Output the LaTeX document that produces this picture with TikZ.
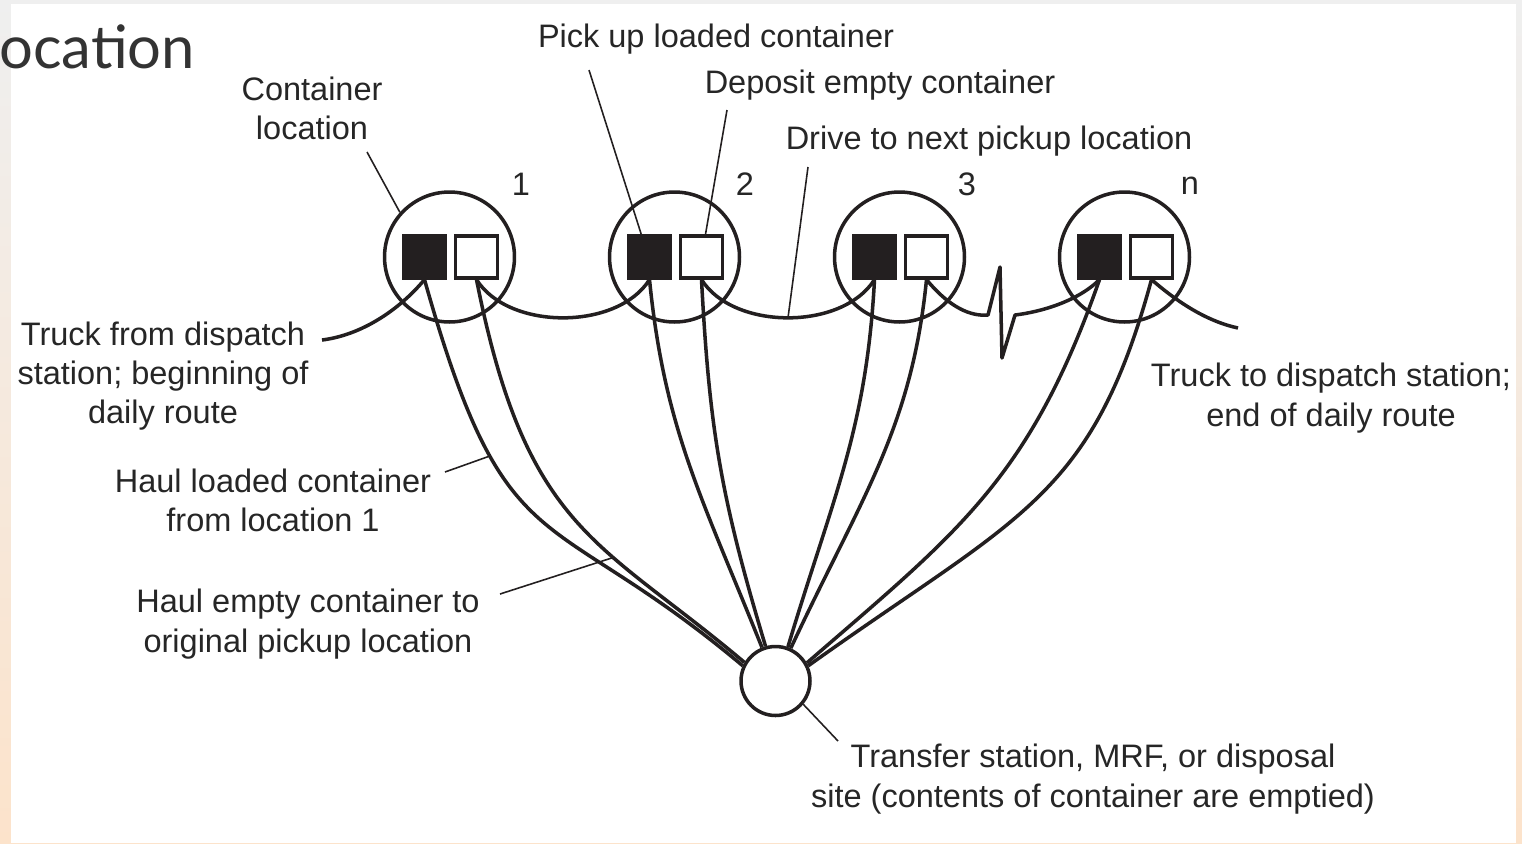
\documentclass[tikz,border=0pt]{standalone}
\usepackage{fontspec}
\setmainfont{Liberation Sans}
\newfontfamily\slidefont{Lato}
\usetikzlibrary{positioning, calc}

\definecolor{ink}{HTML}{231F20}
\definecolor{txt}{HTML}{262626}
\definecolor{slidegray}{HTML}{EFEFEF}
\definecolor{peach}{HTML}{FCE3CB}
\definecolor{titlegray}{HTML}{333333}

\begin{document}
\begin{tikzpicture}[x=0.02cm, y=-0.02cm]%
        \tikzstyle{loc}=[circle, draw=ink, line width=2pt, minimum size=2.6cm, inner sep=0pt];%
        \tikzstyle{site}=[circle, draw=ink, line width=2pt, minimum size=1.38cm, inner sep=0pt];%
        \tikzstyle{fullbox}=[rectangle, draw=ink, fill=ink, line width=1.8pt, minimum size=0.84cm, inner sep=0pt];%
        \tikzstyle{emptybox}=[rectangle, draw=ink, fill=white, line width=1.8pt, minimum size=0.84cm, inner sep=0pt];%
        \tikzstyle{route}=[draw=ink, line width=2pt, line join=round];%
        \tikzstyle{haul}=[draw=ink, line width=2pt];%
        \tikzstyle{leader}=[draw=ink, line width=0.9pt];%
        \tikzstyle{lbl}=[font=\fontsize{18.5}{22.3}\selectfont, text=txt, align=center, inner sep=0pt];%

        % slide background
        \useasboundingbox (0,0) rectangle (1522,843);
        \shade[top color=slidegray, bottom color=peach] (0,0) rectangle (1522,843);
        \fill[white] (11,4) rectangle (1516,843);
        \node[anchor=base west, inner sep=0pt, text=titlegray] (title) at (-1, 68) {\slidefont\fontsize{34}{40}\selectfont ocation};

        % pickup locations
        \node[loc] (loc1) at (449.5, 257) {};
        \node[loc] (loc2) at (674.5, 257) {};
        \node[loc] (loc3) at (899.5, 257) {};
        \node[loc] (loc4) at (1124.5, 257) {};

        \node[fullbox] (f1) at (424.5, 257) {};
        \node[emptybox] (e1) at (476.5, 257) {};
        \node[fullbox] (f2) at (649.5, 257) {};
        \node[emptybox] (e2) at (701.5, 257) {};
        \node[fullbox] (f3) at (874.5, 257) {};
        \node[emptybox] (e3) at (926.5, 257) {};
        \node[fullbox] (f4) at (1099.5, 257) {};
        \node[emptybox] (e4) at (1151.5, 257) {};

        \node[lbl] (n1) at (521, 184) {1};
        \node[lbl] (n2) at (745, 184) {2};
        \node[lbl] (n3) at (967, 184) {3};
        \node[lbl] (n4) at (1190, 186) {n};

        % transfer station
        \node[site] (tss) at (775.5, 681) {};

        % daily route
        \coordinate (depart) at (322, 340);
        \coordinate (back) at (1238, 328);
        \coordinate (z1) at (988, 315);
        \coordinate (z2) at (1000, 267);
        \coordinate (z3) at (1002, 358);
        \coordinate (z4) at (1015, 315);

        \draw[route] (depart) .. controls +(40,-5) and +(-25,30) .. (f1.south);
        \draw[route] (e1.south) .. controls +(32,51) and +(-32,51) .. (f2.south);
        \draw[route] (e2.south) .. controls +(32,51) and +(-32,51) .. (f3.south) coordinate[pos=0.5] (mid23);
        \draw[route] (e3.south) .. controls +(18,22) and +(-22,2) .. (z1) -- (z2) -- (z3) -- (z4) .. controls +(25,-3) and +(-22,22) .. (f4.south);
        \draw[route] (e4.south) .. controls +(30,26) and +(-28,-6) .. (back);

        % hauls to and from the site
        \draw[haul] (f1.south) .. controls +(82,291) and +(-198,-166) .. (tss.155) coordinate[pos=0.29] (h1);
        \draw[haul] (e1.south) .. controls +(50,252) and +(-146,-123) .. (tss.149) coordinate[pos=0.64] (h2);
        \draw[haul] (f2.south) .. controls +(15,150) and +(-60,-150) .. (tss.112);
        \draw[haul] (e2.south) .. controls +(8,150) and +(-45,-150) .. (tss.106);
        \draw[haul] (f3.south) .. controls +(-8,150) and +(45,-150) .. (tss.70);
        \draw[haul] (e3.south) .. controls +(-15,150) and +(70,-150) .. (tss.65);
        \draw[haul] (f4.south) .. controls +(-70,200) and +(150,-130) .. (tss.30);
        \draw[haul] (e4.south) .. controls +(-60,220) and +(210,-150) .. (tss.25);

        % labels
        \node[lbl] (cloc) at (312, 108) {Container\\location};
        \node[lbl] (pick) at (716, 39) {Pick up loaded container};
        \node[lbl] (depo) at (880, 85) {Deposit empty container};
        \node[lbl] (drive) at (989, 141) {Drive to next pickup location};
        \node[lbl] (start) at (163, 376) {Truck from dispatch\\station; beginning of\\daily route};
        \node[lbl] (finish) at (1331, 398) {Truck to dispatch station;\\end of daily route};
        \node[lbl] (hload) at (273, 500) {Haul loaded container\\from location 1};
        \node[lbl] (hempty) at (308, 624) {Haul empty container to\\original pickup location};
        \node[lbl] (tsite) at (1093, 779) {Transfer station, MRF, or disposal\\site (contents of container are emptied)};

        % leaders
        \coordinate (lc) at (367, 152);
        \coordinate (lp) at (589, 70);
        \coordinate (ld) at (727, 110);
        \coordinate (lr) at (808, 167);
        \coordinate (lh1) at (445, 472);
        \coordinate (lh2) at (500, 594);
        \coordinate (lt) at (838, 741);

        \draw[leader] (lc) -- (loc1.138);
        \draw[leader] (lp) -- (f2.110);
        \draw[leader] (ld) -- (e2.80);
        \draw[leader] (lr) -- (mid23);
        \draw[leader] (lh1) -- (h1);
        \draw[leader] (lh2) -- (h2);
        \draw[leader] (tss.-40) -- (lt);
    \end{tikzpicture}
\end{document}
